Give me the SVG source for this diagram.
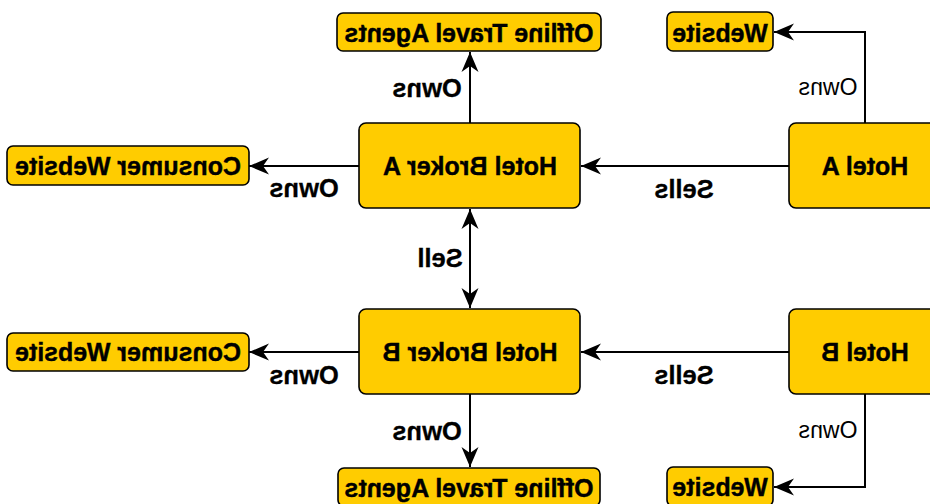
<svg xmlns="http://www.w3.org/2000/svg" width="930" height="504" viewBox="0 0 930 504">
<defs>
<marker id="arr" viewBox="-21 -10 22 20" refX="0" refY="0" markerWidth="22" markerHeight="20" markerUnits="userSpaceOnUse" orient="auto-start-reverse">
<path d="M0,0 L-20,-8.5 L-14,0 L-20,8.5 Z" fill="#000"/>
</marker>
</defs>
<style>
.box{fill:#FFCC00;stroke:#000;stroke-width:1.6}
.t{font-family:"Liberation Sans",Arial,sans-serif;font-weight:bold;font-size:25px;text-anchor:middle;fill:#000;stroke:#000;stroke-width:0.4}
.lb{font-family:"Liberation Sans",Arial,sans-serif;font-weight:bold;font-size:25.5px;text-anchor:middle;fill:#000;stroke:#000;stroke-width:0.3}
.ls{font-family:"Liberation Sans",Arial,sans-serif;font-size:23px;text-anchor:middle;fill:#000}
.c{fill:none;stroke:#000;stroke-width:2}
</style>
<rect width="930" height="504" fill="#fff"/>
<g id="connectors">
<path class="c" d="M470,123 V52" marker-end="url(#arr)"/>
<path class="c" d="M789,166 H581" marker-end="url(#arr)"/>
<path class="c" d="M865,123 V32 H774" marker-end="url(#arr)"/>
<path class="c" d="M359,166 H249" marker-end="url(#arr)"/>
<path class="c" d="M470,209 V308" marker-start="url(#arr)" marker-end="url(#arr)"/>
<path class="c" d="M359,352 H249" marker-end="url(#arr)"/>
<path class="c" d="M789,352 H581" marker-end="url(#arr)"/>
<path class="c" d="M470,394 V467" marker-end="url(#arr)"/>
<path class="c" d="M865,394 V487 H774" marker-end="url(#arr)"/>
<text class="lb" x="427" y="97" transform="matrix(-1 0 0 1 854 0)">Owns</text>
<text class="lb" x="684" y="198" transform="matrix(-1 0 0 1 1368 0)">Sells</text>
<text class="ls" x="828" y="95" transform="matrix(-1 0 0 1 1656 0)">Owns</text>
<text class="lb" x="304" y="197" transform="matrix(-1 0 0 1 608 0)">Owns</text>
<text class="lb" x="440" y="267" transform="matrix(-1 0 0 1 880 0)">Sell</text>
<text class="lb" x="304" y="384" transform="matrix(-1 0 0 1 608 0)">Owns</text>
<text class="lb" x="684" y="384" transform="matrix(-1 0 0 1 1368 0)">Sells</text>
<text class="lb" x="427" y="440" transform="matrix(-1 0 0 1 854 0)">Owns</text>
<text class="ls" x="828" y="438" transform="matrix(-1 0 0 1 1656 0)">Owns</text>
</g>
<g id="offline-top">
<rect class="box" x="337" y="13" width="264" height="38" rx="6"/>
<text class="t" x="469" y="42" transform="matrix(-1 0 0 1 938 0)">Offline Travel Agents</text>
</g>
<g id="website-top">
<rect class="box" x="667" y="12" width="106" height="39" rx="6"/>
<text class="t" x="720" y="42" transform="matrix(-1 0 0 1 1440 0)">Website</text>
</g>
<g id="hotel-a">
<rect class="box" x="789" y="123" width="152" height="85" rx="7"/>
<text class="t" x="865" y="175" transform="matrix(-1 0 0 1 1730 0)">Hotel A</text>
</g>
<g id="broker-a">
<rect class="box" x="359" y="123" width="221" height="85" rx="7"/>
<text class="t" x="470" y="175" transform="matrix(-1 0 0 1 940 0)">Hotel Broker A</text>
</g>
<g id="consumer-a">
<rect class="box" x="7" y="146" width="242" height="39" rx="6"/>
<text class="t" x="128" y="175" transform="matrix(-1 0 0 1 256 0)">Consumer Website</text>
</g>
<g id="broker-b">
<rect class="box" x="359" y="309" width="221" height="85" rx="7"/>
<text class="t" x="470" y="361" transform="matrix(-1 0 0 1 940 0)">Hotel Broker B</text>
</g>
<g id="hotel-b">
<rect class="box" x="789" y="309" width="152" height="85" rx="7"/>
<text class="t" x="865" y="361" transform="matrix(-1 0 0 1 1730 0)">Hotel B</text>
</g>
<g id="consumer-b">
<rect class="box" x="7" y="333" width="242" height="38" rx="6"/>
<text class="t" x="128" y="361" transform="matrix(-1 0 0 1 256 0)">Consumer Website</text>
</g>
<g id="offline-bottom">
<rect class="box" x="338" y="468" width="262" height="38" rx="6"/>
<text class="t" x="469" y="497" transform="matrix(-1 0 0 1 938 0)">Offline Travel Agents</text>
</g>
<g id="website-bottom">
<rect class="box" x="667" y="467" width="106" height="39" rx="6"/>
<text class="t" x="720" y="496" transform="matrix(-1 0 0 1 1440 0)">Website</text>
</g>
</svg>
